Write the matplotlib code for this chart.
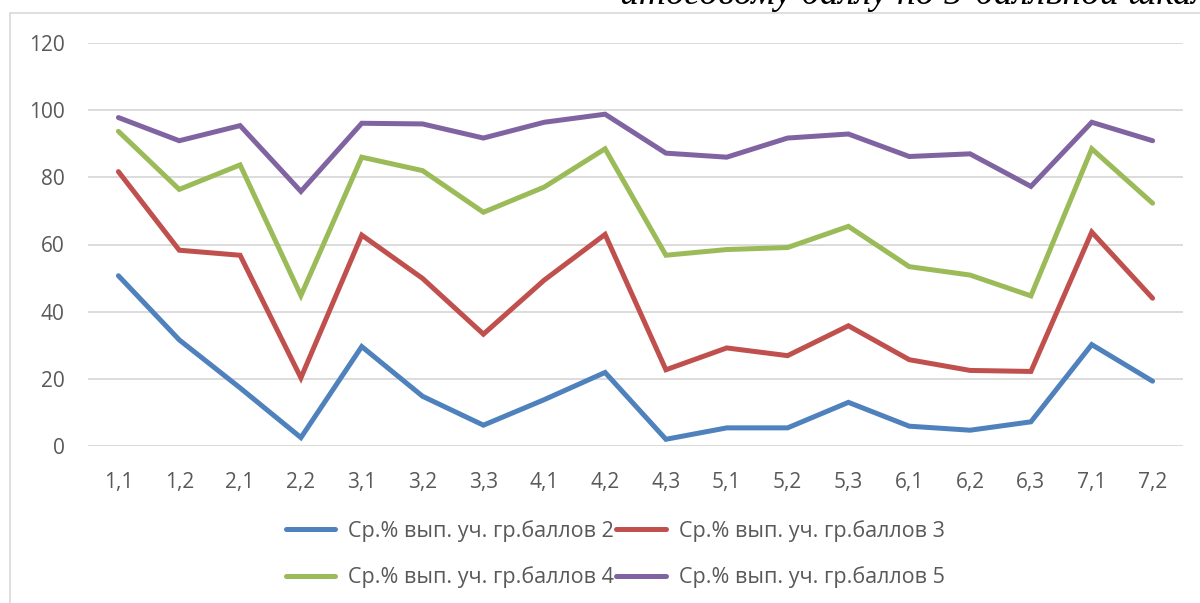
import matplotlib.pyplot as plt
from matplotlib.patches import Rectangle

# Kategorien (Aufgaben)
kategorien = ["1,1", "1,2", "2,1", "2,2", "3,1", "3,2", "3,3", "4,1", "4,2",
              "4,3", "5,1", "5,2", "5,3", "6,1", "6,2", "6,3", "7,1", "7,2"]

# Werte
gr2 = [50.7, 31.6, 17.3, 2.5, 29.6, 14.8, 6.2, 13.8, 21.9,
       2.0, 5.4, 5.4, 13.0, 5.9, 4.7, 7.2, 30.2, 19.3]
gr3 = [81.7, 58.3, 56.8, 20.3, 62.8, 49.9, 33.3, 49.4, 63.0,
       22.7, 29.2, 26.9, 35.8, 25.7, 22.5, 22.2, 63.7, 44.0]
gr4 = [93.7, 76.4, 83.7, 44.8, 86.0, 82.0, 69.6, 77.1, 88.5,
       56.8, 58.5, 59.1, 65.4, 53.4, 50.9, 44.7, 88.5, 72.3]
gr5 = [97.8, 90.9, 95.4, 75.8, 96.1, 95.9, 91.7, 96.4, 98.8,
       87.2, 86.0, 91.7, 92.9, 86.2, 87.0, 77.3, 96.4, 90.9]

namen = ["Ср.% вып. уч. гр.баллов 2", "Ср.% вып. уч. гр.баллов 3",
         "Ср.% вып. уч. гр.баллов 4", "Ср.% вып. уч. гр.баллов 5"]
farben = ["#4F81BD", "#C0504D", "#9BBB59", "#8064A2"]

plt.rcParams['font.family'] = ['Open Sans', 'DejaVu Sans']

fig = plt.figure(figsize=(12, 6.03), dpi=100)

# Rahmen des Diagrammbereichs
fig.patches.append(Rectangle((10 / 1200, -0.1), 1.2, 1 - 12.5 / 603 + 0.1,
                             transform=fig.transFigure, fill=False,
                             edgecolor="#D9D9D9", linewidth=1.2))

# abgeschnittene Ueberschrift oben
fig.text(620 / 1200, 1 - 4 / 603, "итоговому баллу по 5-балльной шкале",
         family="Liberation Serif", style="italic", fontsize=27,
         ha="left", va="baseline", color="black")

ax = fig.add_axes([88 / 1200, 1 - 446 / 603, 1095 / 1200, 403 / 603])
x = range(len(kategorien))
linien = []
for werte, name, farbe in zip([gr2, gr3, gr4, gr5], namen, farben):
    l, = ax.plot(x, werte, color=farbe, linewidth=3.6, label=name,
                 solid_capstyle="round", solid_joinstyle="miter")
    linien.append(l)

ax.set_xlim(-0.5, len(kategorien) - 0.5)
ax.set_ylim(0, 120)
ax.set_yticks(range(0, 121, 20))
ax.set_xticks(list(x))
ax.set_xticklabels(kategorien)
ax.tick_params(length=0, labelsize=15, labelcolor="#595959")
ax.tick_params(axis="y", pad=17)
ax.tick_params(axis="x", pad=19)
ax.grid(axis="y", color="#D9D9D9", linewidth=1.3)
ax.set_axisbelow(True)
for s in ax.spines.values():
    s.set_visible(False)

# Reihenfolge zeilenweise: 2,3 / 4,5
reihe = [0, 2, 1, 3]
leg = fig.legend([linien[i] for i in reihe], [namen[i] for i in reihe],
                 loc="center", bbox_to_anchor=(615 / 1200, 1 - 554 / 603),
                 ncol=2, frameon=False, fontsize=15.5, handlelength=2.3,
                 handletextpad=0.6, columnspacing=0.1, labelspacing=1.15)
for t in leg.get_texts():
    t.set_color("#595959")

fig.savefig("out.png", dpi=100)
